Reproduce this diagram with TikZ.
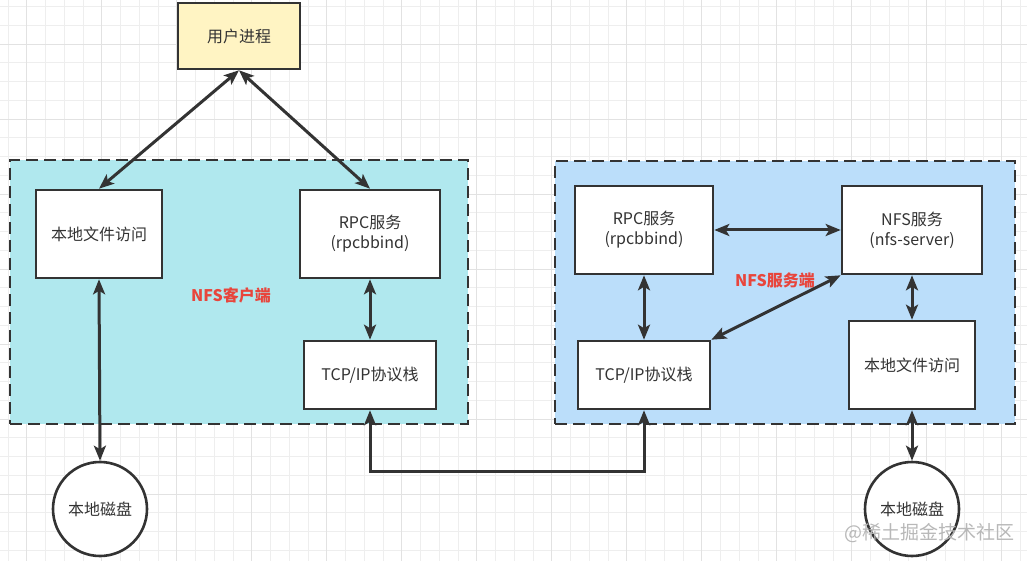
\documentclass[tikz,border=0pt]{standalone}
\usepackage{fontspec}
\setmainfont{Noto Sans CJK SC}
\usetikzlibrary{arrows.meta}
\definecolor{ink}{HTML}{333333}
\definecolor{userbg}{HTML}{FFF4C3}
\definecolor{clientbg}{HTML}{B0E8EE}
\definecolor{serverbg}{HTML}{BBDEFA}
\definecolor{redlabel}{HTML}{E8453C}
\definecolor{gridminor}{HTML}{EEEEEE}
\definecolor{gridmajor}{HTML}{E2E2E2}
\begin{document}
\begin{tikzpicture}[x=1pt,y=-1pt,
  box/.style={draw=ink, line width=2.6pt, fill=white, text=ink, align=center,
    font=\fontsize{16}{20}\selectfont, inner sep=0pt},
  disk/.style={draw=ink, line width=2.6pt, fill=white, text=ink, circle,
    minimum size=94pt, inner sep=0pt, font=\fontsize{16}{20}\selectfont},
  cont/.style={draw=ink, line width=2.6pt, dash pattern=on 12pt off 6pt, inner sep=0pt},
  lab/.style={text=redlabel, font=\fontsize{16}{18}\selectfont\bfseries},
  link/.style={draw=ink, line width=3pt, {Stealth[length=15pt,width=12pt,inset=3.5pt]}-{Stealth[length=15pt,width=12pt,inset=3.5pt]}}
]
\useasboundingbox (0,0) rectangle (1027,561);
\fill[white] (0,0) rectangle (1027,561);
\foreach \i in {0,...,54} \draw[gridminor, line width=0.8pt] ({7.95+\i*18.75},0) -- ++(0,561);
\foreach \j in {0,...,29} \draw[gridminor, line width=0.8pt] (0,{6.5+\j*18.75}) -- ++(1027,0);
\foreach \i in {0,...,13} \draw[gridmajor, line width=0.8pt] ({26.7+\i*75},0) -- ++(0,561);
\foreach \j in {0,...,6} \draw[gridmajor, line width=0.8pt] (0,{44+\j*75}) -- ++(1027,0);

% containers
\node[cont, fill=clientbg, minimum width=458pt, minimum height=264pt] (cbox) at (239,292) {};
\node[cont, fill=serverbg, minimum width=460pt, minimum height=263pt] (sbox) at (785,292.5) {};

% nodes
\node[box, fill=userbg, minimum width=122pt, minimum height=66pt] (user) at (239,36) {用户进程};
\node[box, minimum width=126pt, minimum height=88pt] (clf) at (99,234) {本地文件访问};
\node[box, minimum width=140pt, minimum height=88pt] (crpc) at (370,234) {RPC服务\\(rpcbbind)};
\node[box, minimum width=132pt, minimum height=68pt] (ctcp) at (370,375) {TCP/IP协议栈};
\node[box, minimum width=138pt, minimum height=88pt] (srpc) at (644,230) {RPC服务\\(rpcbbind)};
\node[box, minimum width=140pt, minimum height=88pt] (snfs) at (912,230) {NFS服务\\(nfs-server)};
\node[box, minimum width=132pt, minimum height=68pt] (stcp) at (644,375) {TCP/IP协议栈};
\node[box, minimum width=126pt, minimum height=88pt] (slf) at (912,365) {本地文件访问};
\node[disk] (cdisk) at (100,509) {本地磁盘};
\node[disk] (sdisk) at (912,509) {本地磁盘};

\node[lab] (clab) at (231,295) {NFS客户端};
\node[lab] (slab) at (775,280) {NFS服务端};

% connectors
\draw[link] (user.south) -- (clf.north);
\draw[link] (user.south) -- (crpc.north);
\draw[link] (clf.south) -- (cdisk.north);
\draw[link] (crpc.south) -- (ctcp.north);
\coordinate (bl) at (370,471);
\coordinate (br) at (644,471);
\draw[link] (ctcp.south) -- (bl) -- (br) -- (stcp.south);
\draw[link] (srpc.east) -- (snfs.west);
\draw[link] (srpc.south) -- (stcp.north);
\draw[link] (snfs.south west) -- (stcp.north east);
\draw[link] (snfs.south) -- (slf.north);
\draw[link] (slf.south) -- (sdisk.north);

% watermark
\node[text=black!28, font=\fontsize{19}{19}\selectfont, inner sep=0pt] (wm) at (929,533) {@稀土掘金技术社区};
\end{tikzpicture}
\end{document}
